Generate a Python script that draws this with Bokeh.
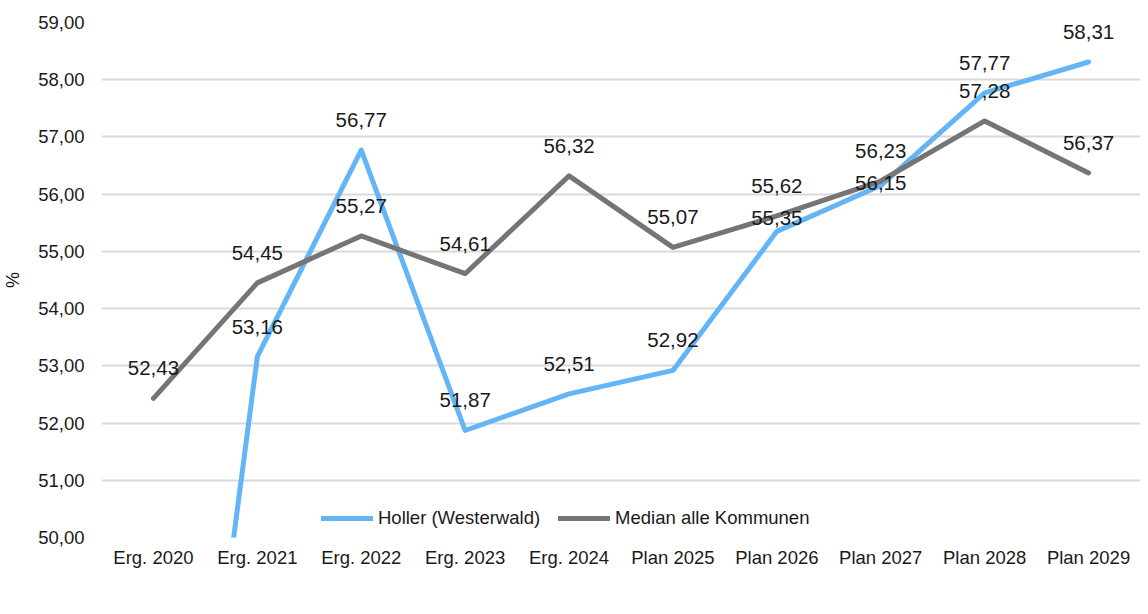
from bokeh.plotting import figure
from bokeh.models import (FactorRange, Range1d, FixedTicker, CustomJSTickFormatter,
                          ColumnDataSource, Legend, LegendItem)
from bokeh.embed import file_html
from bokeh.resources import INLINE
from bokeh.core.properties import value

categories = ["Erg. 2020", "Erg. 2021", "Erg. 2022", "Erg. 2023", "Erg. 2024",
              "Plan 2025", "Plan 2026", "Plan 2027", "Plan 2028", "Plan 2029"]
holler = [39.3, 53.16, 56.77, 51.87, 52.51, 52.92, 55.35, 56.15, 57.77, 58.31]
median = [52.43, 54.45, 55.27, 54.61, 56.32, 55.07, 55.62, 56.23, 57.28, 56.37]
y_ticks = [50, 51, 52, 53, 54, 55, 56, 57, 58, 59]

holler_label_offsets = [-30, -30, -30, -30, -30, -30, -13, -3, -30, -30]
median_label_offsets = [-30] * 10

BLUE = "#64B5F6"
GRAY = "#757575"
FONT = "Liberation Sans"


def fmt(v):
    return f"{v:.2f}".replace(".", ",")


p = figure(width=1140, height=606, x_range=FactorRange(factors=categories),
           y_range=Range1d(50, 59), output_backend="svg", toolbar_location=None,
           min_border_left=100, min_border_right=0, min_border_top=22,
           min_border_bottom=69)
p.outline_line_color = None
p.background_fill_color = "white"
p.border_fill_color = "white"

p.xgrid.grid_line_color = None
p.ygrid.grid_line_color = "#D9D9D9"
p.ygrid.grid_line_width = 2

p.yaxis.ticker = FixedTicker(ticks=y_ticks)
p.yaxis.formatter = CustomJSTickFormatter(code="return tick.toFixed(2).replace('.', ',');")
for ax in (p.xaxis[0], p.yaxis[0]):
    ax.axis_line_color = None
    ax.major_tick_line_color = None
    ax.minor_tick_line_color = None
    ax.major_tick_out = 0
    ax.major_tick_in = 0
    ax.minor_tick_out = 0
    ax.minor_tick_in = 0
    ax.major_label_text_font = FONT
    ax.major_label_text_font_size = "18.5px"
    ax.major_label_text_color = "#1a1a1a"
p.yaxis.major_label_standoff = 17
p.xaxis.major_label_standoff = 9
p.yaxis.axis_label = "%"
p.yaxis.axis_label_text_font = FONT
p.yaxis.axis_label_text_font_size = "18px"
p.yaxis.axis_label_text_font_style = "normal"
p.yaxis.axis_label_text_color = "#1a1a1a"
p.yaxis.axis_label_standoff = 12

src_h = ColumnDataSource(dict(x=categories, y=holler, t=[fmt(v) for v in holler],
                              off=holler_label_offsets))
src_m = ColumnDataSource(dict(x=categories, y=median, t=[fmt(v) for v in median],
                              off=median_label_offsets))

r_h = p.line("x", "y", source=src_h, line_color=BLUE, line_width=5,
             line_join="round", line_cap="round")
r_m = p.line("x", "y", source=src_m, line_color=GRAY, line_width=5,
             line_join="round", line_cap="round")

for src in (src_h, src_m):
    p.text("x", "y", text="t", source=src, y_offset="off", text_align="center",
           text_baseline="middle", text_font=value(FONT), text_font_size="20.5px",
           text_color="#1a1a1a")

legend = Legend(items=[LegendItem(label="Holler (Westerwald)", renderers=[r_h]),
                       LegendItem(label="Median alle Kommunen", renderers=[r_m])],
                orientation="horizontal", location=(220, 8),
                padding=0, margin=0, spacing=18, label_standoff=5,
                glyph_width=52, glyph_height=20,
                label_text_font=FONT, label_text_font_size="18.5px",
                label_text_color="#1a1a1a", border_line_color=None,
                background_fill_alpha=0)
p.add_layout(legend, "center")

open("out.html", "w").write(file_html(p, INLINE))
